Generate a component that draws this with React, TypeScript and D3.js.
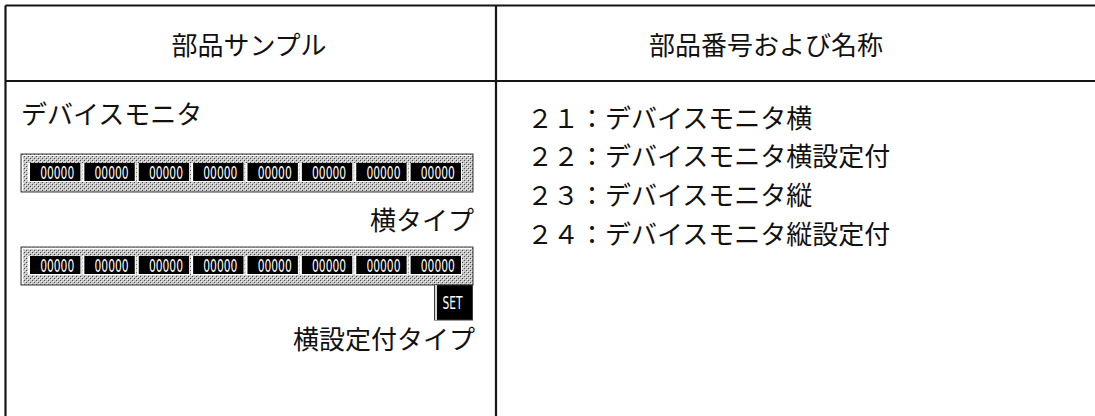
import React from "react";
import * as d3 from "d3";

const headers = ["部品サンプル", "部品番号および名称"];
const sampleTitle = "デバイスモニタ";
const monitorValues = ["00000", "00000", "00000", "00000", "00000", "00000", "00000", "00000"];
const typeLabels = ["横タイプ", "横設定付タイプ"];
const setLabel = "SET";
const partList = [
  "２１：デバイスモニタ横",
  "２２：デバイスモニタ横設定付",
  "２３：デバイスモニタ縦",
  "２４：デバイスモニタ縦設定付",
];

const W = 1095;
const H = 416;
const FONT = "'Noto Sans CJK JP', 'Noto Sans', sans-serif";
const NARROW = "'Liberation Sans Narrow', 'DejaVu Sans Condensed', 'Roboto Condensed', sans-serif";

function MonitorBar({ y, withSet }: { y: number; withSet: boolean }) {
  const x0 = 21;
  const x1 = 473;
  const h = 38;
  const cellScale = d3.scaleBand<number>().domain(d3.range(monitorValues.length)).range([28, 463]).paddingInner(0);
  const cy = y + 9;
  const ch = 18;
  return (
    <g>
      <rect x={x0} y={y} width={x1 - x0} height={h} fill="url(#dither)" stroke="#3a3a3a" strokeWidth={1} />
      <path d={`M${x0 + 1.5},${y + h - 1} V${y + 1.5} H${x1 - 1}`} stroke="#ffffff" strokeWidth={1} fill="none" />
      {monitorValues.map((v, i) => {
        const bx = cellScale(i)!;
        const bw = cellScale.bandwidth();
        return (
          <g key={i}>
            <rect x={bx} y={cy} width={bw - 1} height={ch + 1} fill="#ffffff" />
            <rect x={bx + 2} y={cy} width={bw - 4} height={ch} fill="#000000" />
            <text
              x={bx + bw / 2 + 2}
              y={cy + ch / 2 + 0.5}
              fill="#ffffff"
              fontFamily={NARROW}
              fontSize={17}
              textAnchor="middle"
              dominantBaseline="central"
              textLength={34}
              lengthAdjust="spacingAndGlyphs"
            >
              {v}
            </text>
          </g>
        );
      })}
      {withSet && (
        <g>
          <rect x={434.5} y={y + h} width={38} height={35} fill="#000000" stroke="#3a3a3a" strokeWidth={1} />
          <path d={`M${436},${y + h + 35} V${y + h}`} stroke="#d8d8d8" strokeWidth={2} />
          <text
            x={452.5}
            y={y + h + 17}
            fill="#ffffff"
            fontFamily={NARROW}
            fontSize={18}
            textAnchor="middle"
            dominantBaseline="central"
            textLength={20}
            lengthAdjust="spacingAndGlyphs"
          >
            {setLabel}
          </text>
        </g>
      )}
    </g>
  );
}

export default function App() {
  const listY = d3.scaleLinear().domain([0, 3]).range([116, 232]);
  const colX = d3.scaleLinear().domain([0, 1]).range([249, 766]);
  return (
    <svg
      width={W}
      height={H}
      viewBox={`0 0 ${W} ${H}`}
      style={{ position: "absolute", left: 0, top: 0, background: "#ffffff" }}
    >
      <defs>
        <pattern id="dither" width={4} height={4} patternUnits="userSpaceOnUse">
          <rect width={4} height={4} fill="#c4c4c4" />
          <rect x={0} y={0} width={1} height={1} fill="#4a4a4a" />
          <rect x={2} y={2} width={1} height={1} fill="#4a4a4a" />
          <rect x={1} y={1} width={1} height={1} fill="#f4f4f4" />
          <rect x={3} y={3} width={1} height={1} fill="#f4f4f4" />
        </pattern>
      </defs>
      <rect x={0} y={0} width={W} height={H} fill="#ffffff" />
      <g stroke="#151515" strokeWidth={2.2} fill="none">
        <line x1={5.5} y1={5.5} x2={W + 5} y2={5.5} />
        <line x1={5.5} y1={5.5} x2={5.5} y2={H + 5} />
        <line x1={496} y1={5.5} x2={496} y2={H + 5} />
        <line x1={5.5} y1={81} x2={W + 5} y2={81} />
      </g>
      {headers.map((h, i) => (
        <text
          key={i}
          x={colX(i)}
          y={43}
          fontFamily={FONT}
          fontSize={26}
          fill="#111"
          textAnchor="middle"
          dominantBaseline="central"
        >
          {h}
        </text>
      ))}
      <text x={21} y={112} fontFamily={FONT} fontSize={26} fill="#111" dominantBaseline="central">
        {sampleTitle}
      </text>
      <MonitorBar y={154} withSet={false} />
      <text x={474} y={218} fontFamily={FONT} fontSize={26} fill="#111" textAnchor="end" dominantBaseline="central">
        {typeLabels[0]}
      </text>
      <MonitorBar y={247} withSet={true} />
      <text x={475} y={337} fontFamily={FONT} fontSize={26} fill="#111" textAnchor="end" dominantBaseline="central">
        {typeLabels[1]}
      </text>
      {partList.map((p, i) => (
        <text
          key={i}
          x={527}
          y={listY(i)}
          fontFamily={FONT}
          fontSize={26}
          fill="#111"
          dominantBaseline="central"
        >
          {p}
        </text>
      ))}
    </svg>
  );
}
